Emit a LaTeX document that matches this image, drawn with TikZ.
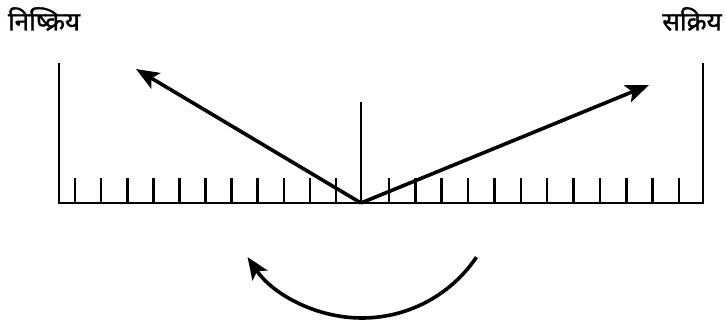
\documentclass[tikz,border=0pt]{standalone}
\usepackage{fontspec}
\newfontfamily\devfont[Script=Devanagari, FakeBold=1.2]{Noto Sans}
\usetikzlibrary{arrows.meta, calc}
\tikzset{
  rule/.style={line width=2.9pt, line cap=rect},
  tick/.style={line width=2.6pt},
  swing/.style={-{Stealth[length=23pt, width=18pt, inset=5pt]}, line width=3.6pt},
  turn/.style={-{Stealth[length=22pt, width=18pt, inset=5pt]}, line width=3.6pt},
  statetext/.style={font=\devfont\fontsize{26}{30}\selectfont, inner sep=0pt},
}
\begin{document}
\begin{tikzpicture}[x=1pt, y=-1pt]
  \useasboundingbox (0,0) rectangle (727,331);
  % labels
  \node[statetext] (inact) at (44,19) {निष्क्रिय};
  \node[statetext] (act) at (692,19) {सक्रिय};
  % scale
  \coordinate (o) at (361,203);
  \coordinate (l) at (59,203);
  \coordinate (r) at (703,203);
  \coordinate (ltop) at (59,64);
  \coordinate (rtop) at (703,64);
  \coordinate (ctop) at (361,103);
  \draw[rule] (ltop) -- (l) -- (r) -- (rtop);
  \draw[rule] (ctop) -- (o);
  \foreach \i in {0,...,10}
    \draw[tick] ({75+26.1*\i},203) -- ++(0,-25);
  \foreach \i in {0,...,11}
    \draw[tick] ({389+26.36*\i},203) -- ++(0,-25);
  % pointers
  \coordinate (ltip) at (136,69);
  \coordinate (rtip) at (649,85);
  \draw[swing] (o) -- (ltip);
  \draw[swing] (o) -- (rtip);
  % rotation
  \coordinate (astart) at ($(362,180)+(34:138)$);
  \draw[turn] (astart) arc[start angle=34, end angle=146, radius=138];
\end{tikzpicture}
\end{document}
